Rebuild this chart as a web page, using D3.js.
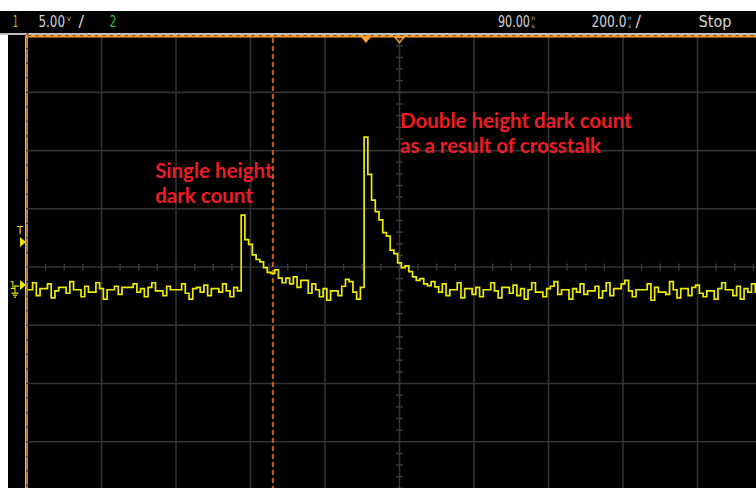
<!DOCTYPE html>
<html><head><meta charset="utf-8">
<script src="https://cdn.jsdelivr.net/npm/d3@7"></script>
<style>html,body{margin:0;padding:0;background:#fff;overflow:hidden}svg{display:block}</style>
</head><body>
<svg id="c" width="756" height="488"></svg>
<script>
// ---------- data ----------
const sampleStartNs = -915;
const sampleStepNs = 10;
// channel 1 trace, volts, one value per 10 ns sample
const baselineBefore = [-0.4,-0.4,0.2,-0.9,-0.3,-0.3,0.1,-1.1,-0.5,-0.2,
  -0.2,-0.7,0.3,-0.4,-0.4,-1.0,-0.1,-0.6,-0.6,0.2,
  -0.3,-1.2,-0.4,-0.4,-0.1,-0.8,-0.2,-0.2,-0.2,0.1,
  -0.6,-0.3,-1.0,-0.2,0.2,-0.5,-0.5,-0.9,-0.1,-0.4,
  -0.4,-0.4,0.1,-0.7,-1.2,-0.3,-0.2,-0.6,0.0,-0.9,
  -0.3,-0.3,-0.6,0.1,-0.5,-1.0,-0.2,-0.5];
const singlePulse = [6.0,3.9,3.5,2.6,2.2,2.0,1.5,1.1,1.0,1.3,0.6,0.2];
const baselineBetween = [0.6,0.1,0.7,-0.2,0.4,0.4,-0.7,0.1,-0.4,-1.0,
  -0.3,-1.3,-0.5,-0.5,-0.9,-0.1,0.5,0.3,-0.6,-1.2,-0.2];
const doublePulse = [12.7,9.5,7.3,6.3,5.6,4.5,4.2,3.0,2.7,1.9,
  1.5,1.65,1.15,0.7,0.4,0.55,0.1,-0.05,0.3,-0.15];
const baselineAfter = [-0.6,0.1,-0.9,-0.4,-0.4,0.2,-1.1,-0.3,-0.3,-0.8,
  -0.2,-1.0,-0.4,-0.4,0.2,-0.5,-1.1,-0.2,-0.2,-0.7,
  0.0,-0.9,-0.3,-1.2,-0.4,0.2,-0.6,-0.6,-1.0,-0.3,
  -0.1,0.3,-0.8,-0.4,-0.4,-1.2,-0.3,-0.6,0.1,-0.8,
  -0.5,-0.5,-0.1,-1.1,-0.5,0.2,-0.9,-0.3,-0.3,0.1,
  0.4,-0.5,-1.0,-0.4,-0.4,-0.4,0.1,-1.3,-0.2,-0.6,
  -0.6,-0.8,0.3,-0.4,-1.1,-0.3,-0.3,-0.9,-0.2,0.0,
  -0.7,-1.0,-0.5,-0.5,-1.2,-0.3,0.2,-0.4,-0.4,-0.9,
  -0.1,-1.2,-0.3,-0.6,0.1,-0.6,-1.0];
const traceVolts = [].concat(baselineBefore, singlePulse, baselineBetween, doublePulse, baselineAfter);

const timeDomainNs = [-910, 1090];      // 90 ns delay, 200 ns/div, 10 div
const voltDomain = [-18.45, 21.55];      // 5 V/div, 8 div
const timePerDiv = 200, voltPerDiv = 5;
const cursorTimeNs = -250;
const triggerLevelV = 3.7;
const delayNs = 90;

const annotationSingle = ["Single height", "dark count"];
const annotationDouble = ["Double height dark count", "as a result of crosstalk"];

// ---------- drawing ----------
const svg = d3.select("#c");
const W = 756, H = 488;
const x = d3.scaleLinear().domain(timeDomainNs).range([27, 772]);
const y = d3.scaleLinear().domain(voltDomain).range([500, 34.1]);

svg.append("rect").attr("x",0).attr("y",0).attr("width",W).attr("height",H).attr("fill","#fff");
svg.append("rect").attr("x",0).attr("y",11).attr("width",W).attr("height",22).attr("fill","#000");
svg.append("rect").attr("x",0).attr("y",33).attr("width",W).attr("height",2).attr("fill","#bdbdbd");
svg.append("rect").attr("x",8).attr("y",35).attr("width",W-8).attr("height",H-35).attr("fill","#000");

const defs = svg.append("defs");
defs.append("clipPath").attr("id","plot").append("rect")
  .attr("x",27).attr("y",35).attr("width",W-27).attr("height",H-35);

const g = svg.append("g").attr("clip-path","url(#plot)");

// grid
const vTicks = d3.range(1, 10).map(k => timeDomainNs[0] + k*timePerDiv);
const hTicks = d3.range(1, 8).map(k => voltDomain[0] + k*voltPerDiv);
g.selectAll("line.vg").data(vTicks).join("line")
  .attr("x1", d=>x(d)).attr("x2", d=>x(d)).attr("y1", 35).attr("y2", H)
  .attr("stroke","#333").attr("stroke-width",1.6);
g.selectAll("line.hg").data(hTicks).join("line")
  .attr("x1", 27).attr("x2", W).attr("y1", d=>y(d)).attr("y2", d=>y(d))
  .attr("stroke","#333").attr("stroke-width",1.6);

// minor ticks on centre axes
const tCenter = timeDomainNs[0] + 5*timePerDiv;
const vCenter = voltDomain[0] + 4*voltPerDiv;
const minorT = d3.range(0, 41).map(k => timeDomainNs[0] + k*timePerDiv/4);
const minorV = d3.range(0, 41).map(k => voltDomain[0] + k*voltPerDiv/5);
g.selectAll("line.mt").data(minorT).join("line")
  .attr("x1", d=>x(d)).attr("x2", d=>x(d))
  .attr("y1", y(vCenter)-3.5).attr("y2", y(vCenter)+3.5)
  .attr("stroke","#3a3a3a").attr("stroke-width",1.4);
g.selectAll("line.mv").data(minorV).join("line")
  .attr("y1", d=>y(d)).attr("y2", d=>y(d))
  .attr("x1", x(tCenter)-3.5).attr("x2", x(tCenter)+3.5)
  .attr("stroke","#3a3a3a").attr("stroke-width",1.4);

// cursor (dashed orange)
g.append("line").attr("x1",x(cursorTimeNs)).attr("x2",x(cursorTimeNs))
  .attr("y1",38).attr("y2",H)
  .attr("stroke","#c86400").attr("stroke-width",2).attr("stroke-dasharray","5,3");

// trace
const line = d3.line()
  .x((d,i) => x(sampleStartNs + i*sampleStepNs))
  .y(d => y(d))
  .curve(d3.curveStepAfter);
g.append("path").datum(traceVolts).attr("d", line)
  .attr("fill","none").attr("stroke","#eded00").attr("stroke-width",1.7)
  .attr("stroke-linejoin","miter");

// top orange border with dark dashes
svg.append("line").attr("x1",26).attr("x2",W).attr("y1",36.3).attr("y2",36.3)
  .attr("stroke","#ff9e2c").attr("stroke-width",2.4);
svg.append("line").attr("x1",28).attr("x2",W).attr("y1",35.6).attr("y2",35.6)
  .attr("stroke","#5a3a10").attr("stroke-width",0.9).attr("stroke-dasharray","3,4.45");
// left border: white + orange
svg.append("line").attr("x1",25.8).attr("x2",25.8).attr("y1",36).attr("y2",H)
  .attr("stroke","#f4e6d6").attr("stroke-width",1.2);
svg.append("line").attr("x1",27.2).attr("x2",27.2).attr("y1",36).attr("y2",H)
  .attr("stroke","#e07a1c").attr("stroke-width",1.6);
const leftTicks = d3.range(0, 33).map(k => voltDomain[0] + k*voltPerDiv/4);
svg.selectAll("line.lt").data(leftTicks).join("line")
  .attr("x1",26.3).attr("x2",28.5).attr("y1",d=>y(d)).attr("y2",d=>y(d))
  .attr("stroke","#2a2a2a").attr("stroke-width",1.2);

// trigger position (t = 0) filled triangle, delay reference outlined triangle
const tx = x(0);
svg.append("path").attr("d",`M${tx-5},37 L${tx+5},37 L${tx},43 Z`).attr("fill","#ff9e2c");
const dx = x(delayNs);
svg.append("path").attr("d",`M${dx-4.5},37.3 L${dx+4.5},37.3 L${dx},42.7 Z`)
  .attr("fill","#3a2a10").attr("stroke","#ff9e2c").attr("stroke-width",1.3);

// left markers
const yel = "#e6e600";
const hf = "'DejaVu Sans Condensed', 'DejaVu Sans', sans-serif";
svg.append("text").attr("x",17).attr("y",y(triggerLevelV)-8.5).text("T")
  .attr("fill",yel).attr("font-family",hf).attr("font-size",11);
const ty = y(triggerLevelV);
svg.append("path").attr("d",`M20,${ty-5} L26,${ty} L20,${ty+5} Z`).attr("fill",yel);
const gy = y(0);
svg.append("text").attr("x",9.5).attr("y",gy+4).text("1")
  .attr("fill",yel).attr("font-family",hf).attr("font-size",11);
svg.append("path").attr("d",`M20,${gy-5} L26,${gy} L20,${gy+5} Z`).attr("fill",yel);
svg.append("path").attr("d",`M14,${gy+1} L19,${gy+1} M15,${gy+1} L15,${gy+8} M11.5,${gy+8} L18.5,${gy+8} M12.8,${gy+10} L17.2,${gy+10} M14,${gy+12} L16,${gy+12}`)
  .attr("stroke",yel).attr("stroke-width",1.1).attr("fill","none");

// header text (horizontally compressed like the scope font)
const grey = "#d4d4d4";
const hy = 27;
function htext(xp, s, len, color){
  const t = svg.append("text").attr("x",0).attr("y",0).text(s).attr("fill",color||grey)
    .attr("font-family",hf).attr("font-size",15.5);
  const nat = t.node().getComputedTextLength();
  t.attr("transform",`translate(${xp},${hy}) scale(${len/nat},1)`);
}
function unit(xp, s, yp){
  svg.append("text").attr("x",xp).attr("y",yp).text(s).attr("fill",grey)
    .attr("font-family",hf).attr("font-size",6);
}
htext(13, "1", 5, "#c4c400");
htext(38.5, "5.00", 26.5);
unit(67, "V", hy-6.5);
htext(78.5, "/", 5.5);
htext(109.5, "2", 7, "#2fc02f");
htext(498, "90.00", 32);
unit(531.5, "n", hy-7.2);
unit(531.8, "s", hy+0.8);
htext(591.5, "200.0", 35);
unit(628, "n", hy-7.2);
unit(628.3, "s", hy+0.8);
htext(635.5, "/", 5.5);
htext(698.5, "Stop", 33);

// annotations
const red = "#ec1c24";
function annot(lines, xp, yp){
  const t = svg.append("text").attr("x",xp).attr("y",yp).attr("fill",red)
    .attr("font-family","Lato, 'Open Sans', sans-serif").attr("font-weight","bold").attr("font-size",20.5);
  lines.forEach((s,i)=> t.append("tspan").attr("x",xp).attr("dy", i===0?0:25).text(s));
}
annot(annotationSingle, x(-566), y(9.2));
annot(annotationDouble, x(delayNs)+0.5, y(13.5));
</script>
</body></html>
